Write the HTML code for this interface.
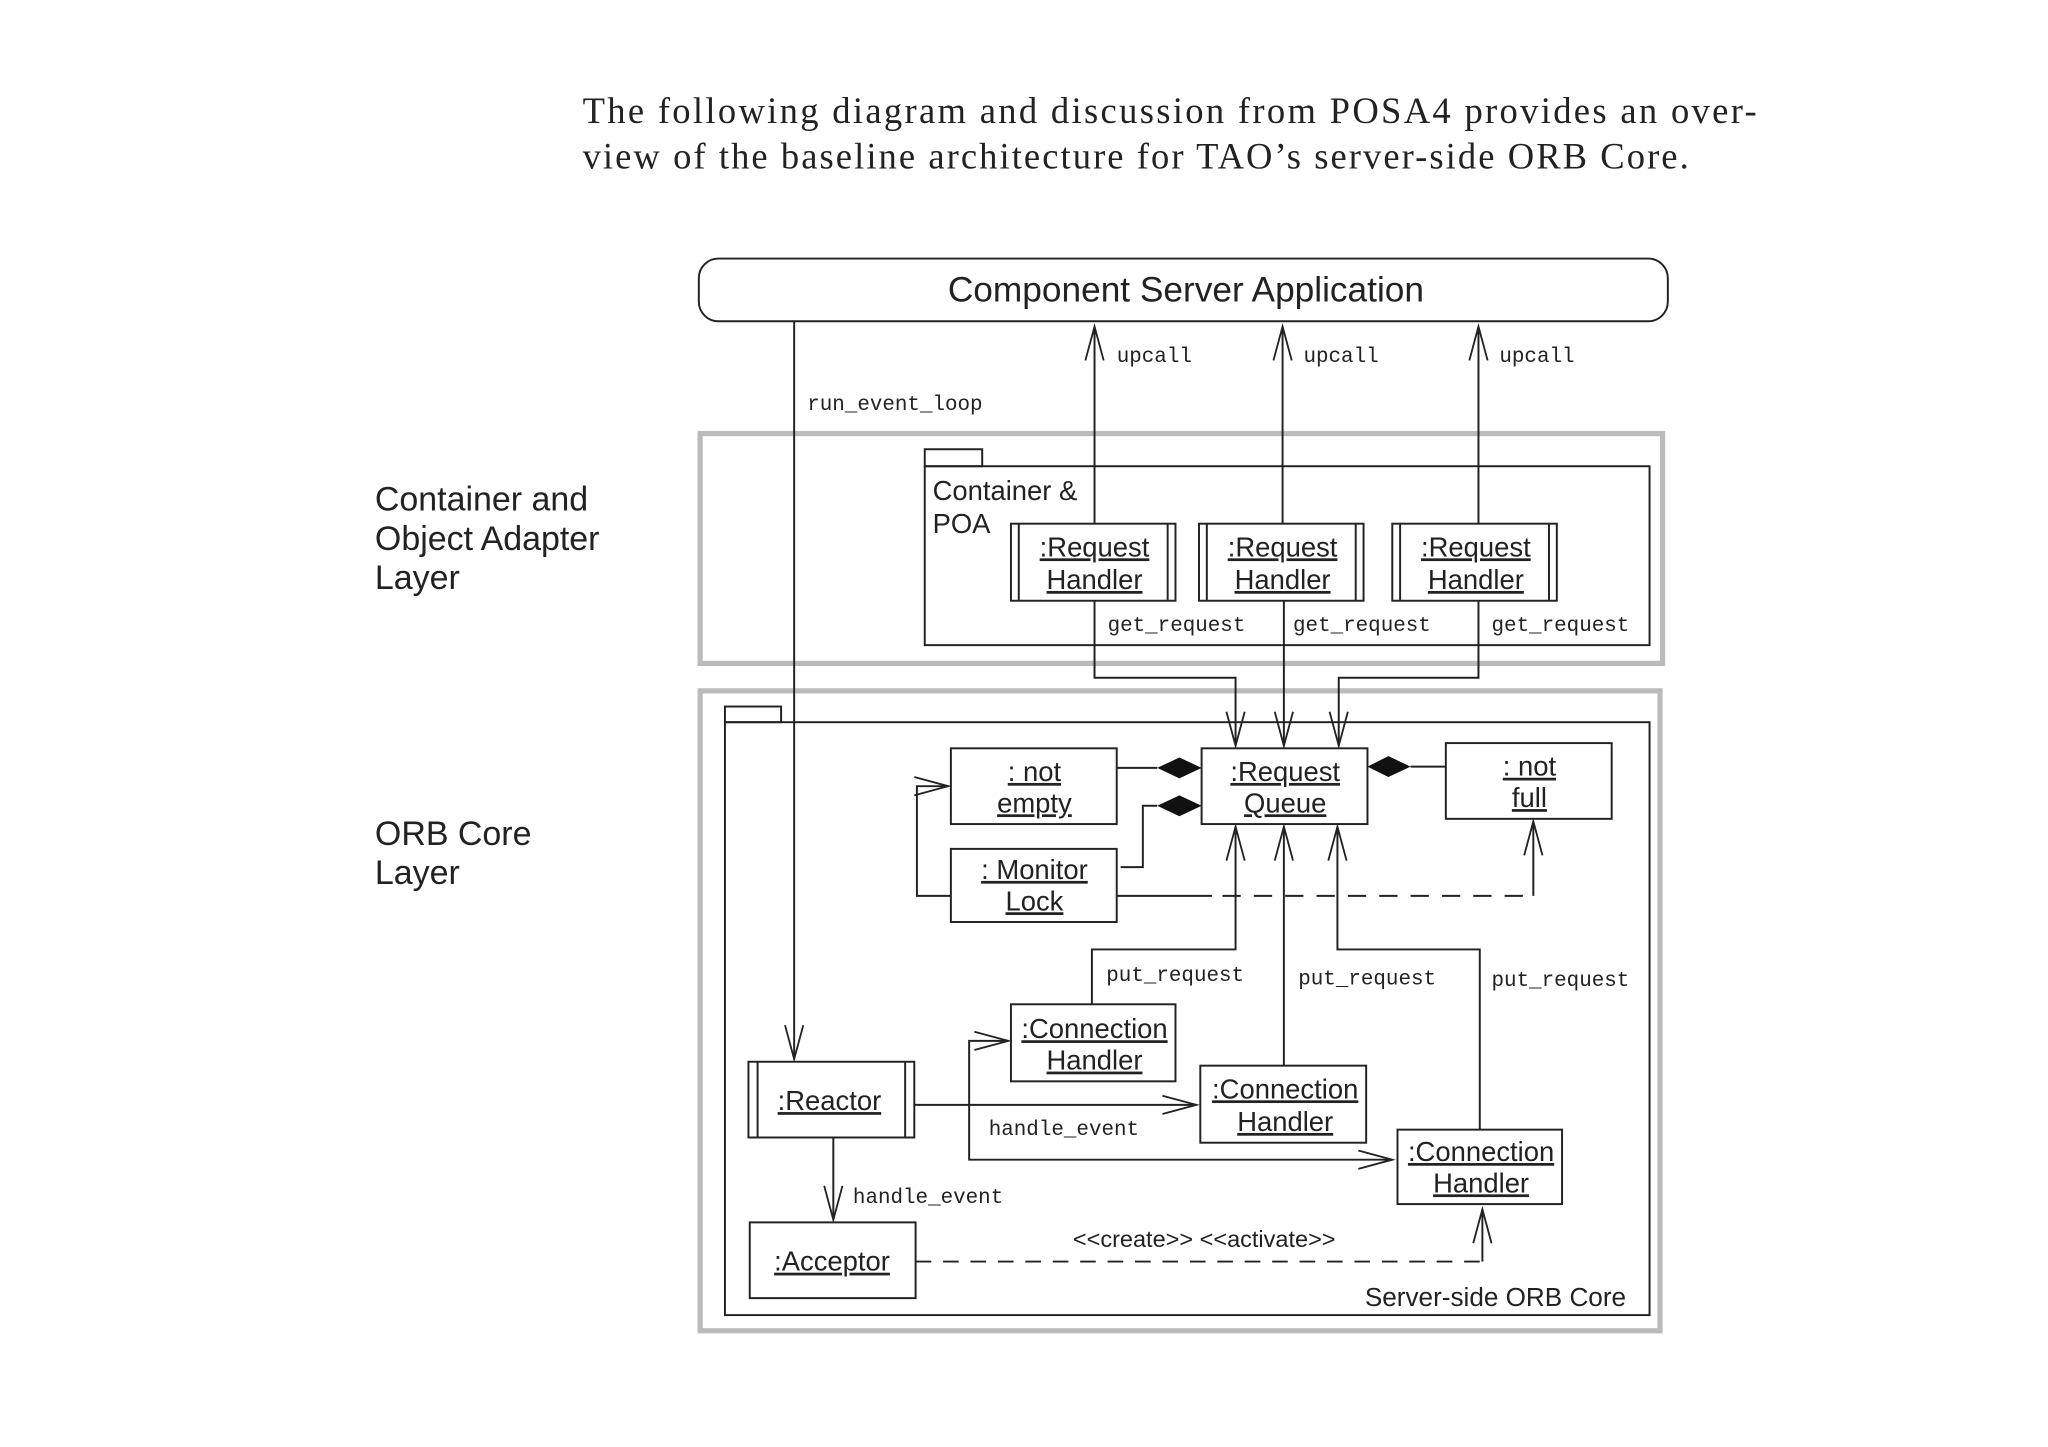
<!DOCTYPE html>
<html><head><meta charset="utf-8"><style>html,body{margin:0;padding:0;background:#fff}svg{display:block}</style></head><body>
<svg width="2048" height="1447" viewBox="0 0 1568 1108" xmlns="http://www.w3.org/2000/svg">
<defs>
<marker id="a" markerUnits="userSpaceOnUse" markerWidth="30" markerHeight="16" refX="0" refY="0" viewBox="-28 -8 30 16" orient="auto" overflow="visible">
<path d="M-26,-7 L0,0 L-26,7" fill="none" stroke="#222" stroke-width="1.4"/>
</marker>
</defs>
<rect width="1568" height="1108" fill="#fff"/>
<g font-family="Liberation Serif, serif" font-size="28" fill="#222">
<text x="446" y="94" textLength="899" lengthAdjust="spacing">The following diagram and discussion from POSA4 provides an over-</text>
<text x="446" y="129" textLength="847" lengthAdjust="spacing">view of the baseline architecture for TAO’s server-side ORB Core.</text>
</g>
<g font-family="Liberation Sans, sans-serif" font-size="26" fill="#222">
<text x="287" y="391">Container and</text><text x="287" y="421">Object Adapter</text><text x="287" y="451">Layer</text>
<text x="287" y="647">ORB Core</text><text x="287" y="677">Layer</text>
</g>
<g fill="none" stroke="#222" stroke-width="1.5">
<rect x="535" y="198" width="742" height="48" rx="15"/>
<rect x="536" y="332" width="737" height="176" stroke="#bbb" stroke-width="4"/>
<rect x="536" y="529" width="735" height="490" stroke="#bbb" stroke-width="4"/>
<rect x="708" y="344" width="44" height="13"/>
<rect x="708" y="357" width="555" height="137"/>
<rect x="555" y="541" width="43" height="12"/>
<rect x="555" y="553" width="708" height="454"/>
<rect x="774" y="401" width="126" height="59"/><line x1="780" y1="401" x2="780" y2="460"/><line x1="894" y1="401" x2="894" y2="460"/>
<rect x="918" y="401" width="126" height="59"/><line x1="924" y1="401" x2="924" y2="460"/><line x1="1038" y1="401" x2="1038" y2="460"/>
<rect x="1066" y="401" width="126" height="59"/><line x1="1072" y1="401" x2="1072" y2="460"/><line x1="1186" y1="401" x2="1186" y2="460"/>
<line x1="838" y1="401" x2="838" y2="250" marker-end="url(#a)"/>
<line x1="982" y1="401" x2="982" y2="250" marker-end="url(#a)"/>
<line x1="1132" y1="401" x2="1132" y2="250" marker-end="url(#a)"/>
<line x1="608" y1="246" x2="608" y2="811" marker-end="url(#a)"/>
<polyline points="838,460 838,519 946,519 946,571" marker-end="url(#a)"/>
<line x1="983" y1="460" x2="983" y2="571" marker-end="url(#a)"/>
<polyline points="1132,460 1132,519 1025,519 1025,571" marker-end="url(#a)"/>
<rect x="728" y="573" width="127" height="58"/>
<rect x="920" y="573" width="127" height="58"/>
<rect x="1107" y="569" width="127" height="58"/>
<rect x="728" y="650" width="127" height="56"/>
<line x1="855" y1="588" x2="886" y2="588"/>
<polyline points="858,664 875,664 875,617 886,617"/>
<line x1="1080" y1="587" x2="1107" y2="587"/>
<polyline points="728,686 702,686 702,602 726,602" marker-end="url(#a)"/>
<line x1="855" y1="686" x2="928" y2="686"/>
<line x1="936" y1="686" x2="1174" y2="686" stroke-dasharray="14,10"/>
<line x1="1174" y1="686" x2="1174" y2="629" marker-end="url(#a)"/>
<polyline points="836,769 836,727 946,727 946,633" marker-end="url(#a)"/>
<line x1="983" y1="816" x2="983" y2="633" marker-end="url(#a)"/>
<polyline points="1133,865 1133,727 1024,727 1024,633" marker-end="url(#a)"/>
<rect x="774" y="769" width="126" height="59"/>
<rect x="919" y="816" width="127" height="59"/>
<rect x="1070" y="865" width="126" height="57"/>
<rect x="573" y="813" width="127" height="58"/><line x1="580" y1="813" x2="580" y2="871"/><line x1="693" y1="813" x2="693" y2="871"/>
<line x1="700" y1="846" x2="916" y2="846" marker-end="url(#a)"/>
<polyline points="742,846 742,797 772,797" marker-end="url(#a)"/>
<polyline points="742,846 742,888 1066,888" marker-end="url(#a)"/>
<line x1="638" y1="871" x2="638" y2="934" marker-end="url(#a)"/>
<rect x="574" y="936" width="127" height="58"/>
<line x1="701" y1="966" x2="1135" y2="966" stroke-dasharray="12,9"/>
<line x1="1135" y1="966" x2="1135" y2="926" marker-end="url(#a)"/>
</g>
<g fill="#111">
<polygon points="886,588 903,580 920,588 903,596"/>
<polygon points="886,617 903,609 920,617 903,625"/>
<polygon points="1047,587 1063,579 1080,587 1063,595"/>
</g>
<g font-family="Liberation Sans, sans-serif" font-size="21" fill="#222" text-anchor="middle" text-decoration="underline">
<text x="838" y="426">:Request</text><text x="838" y="451">Handler</text>
<text x="982" y="426">:Request</text><text x="982" y="451">Handler</text>
<text x="1130" y="426">:Request</text><text x="1130" y="451">Handler</text>
<text x="792" y="598">: not</text><text x="792" y="622">empty</text>
<text x="984" y="598">:Request</text><text x="984" y="622">Queue</text>
<text x="1171" y="594">: not</text><text x="1171" y="618">full</text>
<text x="792" y="673">: Monitor</text><text x="792" y="697">Lock</text>
<text x="838" y="795">:Connection</text><text x="838" y="819">Handler</text>
<text x="984" y="841">:Connection</text><text x="984" y="866">Handler</text>
<text x="1134" y="889">:Connection</text><text x="1134" y="913">Handler</text>
<text x="635" y="850">:Reactor</text>
<text x="637" y="973">:Acceptor</text>
</g>
<g font-family="Liberation Sans, sans-serif" fill="#222">
<text x="908" y="231" font-size="27" text-anchor="middle">Component Server Application</text>
<text x="714" y="383" font-size="21">Container &amp;</text><text x="714" y="408" font-size="21">POA</text>
<text x="922" y="955" font-size="18" text-anchor="middle">&lt;&lt;create&gt;&gt; &lt;&lt;activate&gt;&gt;</text>
<text x="1245" y="1000" font-size="20" text-anchor="end">Server-side ORB Core</text>
</g>
<g font-family="Liberation Mono, monospace" font-size="16" fill="#222">
<text x="855" y="277">upcall</text><text x="998" y="277">upcall</text><text x="1148" y="277">upcall</text>
<text x="618" y="314">run_event_loop</text>
<text x="848" y="483">get_request</text><text x="990" y="483">get_request</text><text x="1142" y="483">get_request</text>
<text x="847" y="751">put_request</text><text x="994" y="754">put_request</text><text x="1142" y="755">put_request</text>
<text x="757" y="869">handle_event</text>
<text x="653" y="921">handle_event</text>
</g>
</svg>
</body></html>
